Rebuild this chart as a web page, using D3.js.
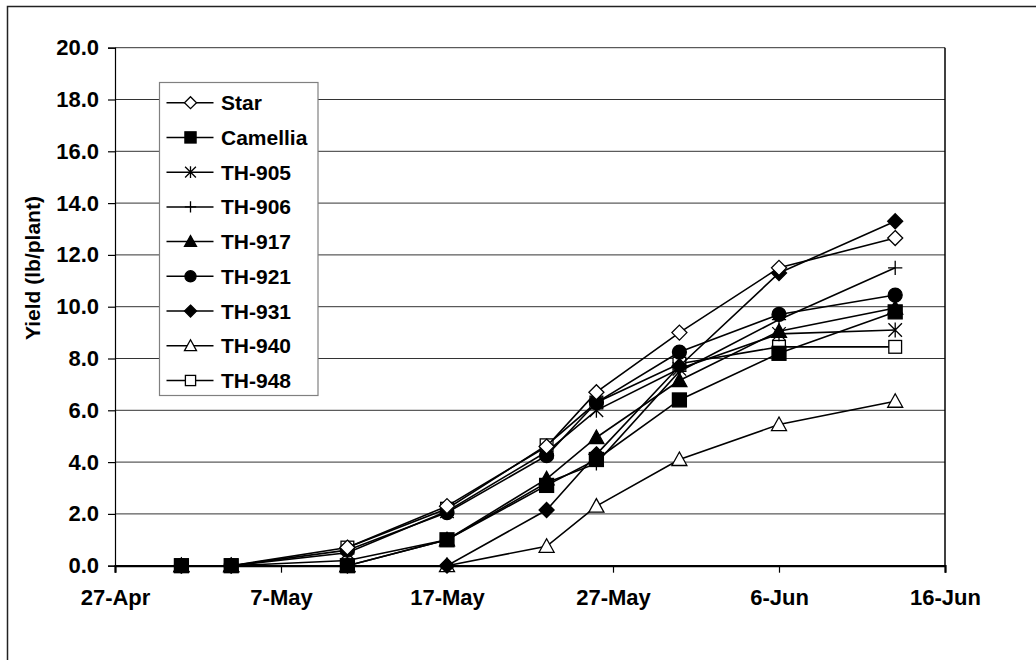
<!DOCTYPE html>
<html lang="en">
<head>
<meta charset="UTF-8">
<title>Yield (lb/plant)</title>
<style>
  body { margin: 0; background: #fff; }
  svg { display: block; font-family: "Liberation Sans", Arial, sans-serif; }
  .tick text { font-size: 22px; font-weight: bold; fill: #000; }
  .legend text { font-size: 21px; font-weight: bold; }
</style>
</head>
<body>
<div id="chart"></div>
<script src="https://d3js.org/d3.v7.min.js"></script>
<script>
// harvest dates (year is arbitrary, only day and month are shown)
const dates = ["2003-05-01", "2003-05-04", "2003-05-11", "2003-05-17", "2003-05-23",
               "2003-05-26", "2003-05-31", "2003-06-06", "2003-06-13"];

const seriesNames = ["Star", "Camellia", "TH-905", "TH-906", "TH-917", "TH-921", "TH-931", "TH-940", "TH-948"];
const markerTypes = ["diamondOpen", "square", "asterisk", "plus", "triangle", "circle", "diamond", "triangleOpen", "squareOpen"];

// cumulative yield, lb/plant (null = no reading)
const star     = [null, null, 0.7, 2.3, 4.6, 6.7, 9.0, 11.5, 12.65];
const camellia = [0, 0, 0.0, 1.0, 3.1, 4.1, 6.4, 8.2, 9.8];
const th905    = [0, 0, 0.5, 2.1, 4.4, 6.0, 7.6, 8.95, 9.1];
const th906    = [0, 0, 0.2, 1.0, 3.2, 3.95, 7.5, 9.5, 11.5];
const th917    = [0, 0, 0.0, 1.0, 3.35, 4.95, 7.15, 9.05, 9.95];
const th921    = [0, 0, 0.6, 2.05, 4.25, 6.3, 8.25, 9.7, 10.45];
const th931    = [0, 0, 0.0, 0.0, 2.15, 4.3, 7.7, 11.3, 13.3];
const th940    = [0, 0, 0.0, 0.0, 0.75, 2.3, 4.1, 5.45, 6.35];
const th948    = [0, 0, 0.7, 2.2, 4.65, 6.3, 7.8, 8.45, 8.45];

const xTickDates = ["2003-04-27", "2003-05-07", "2003-05-17", "2003-05-27", "2003-06-06", "2003-06-16"];
const yTicks = [0, 2, 4, 6, 8, 10, 12, 14, 16, 18, 20];

const seriesValues = [star, camellia, th905, th906, th917, th921, th931, th940, th948];

const width = 1036, height = 660;
const plot = { left: 115, right: 945, top: 47.7, bottom: 565.7 };

const parse = d3.utcParse("%Y-%m-%d");
const fmt = d3.utcFormat("%-d-%b");

const x = d3.scaleUtc()
    .domain([parse(xTickDates[0]), parse(xTickDates[xTickDates.length - 1])])
    .range([plot.left, plot.right]);
const y = d3.scaleLinear().domain([0, 20]).range([plot.bottom, plot.top]);

const svg = d3.select("#chart").append("svg")
    .attr("width", width)
    .attr("height", height);

// outer chart frame (only the left and top edges fall inside the picture)
svg.append("rect")
    .attr("x", 7.5).attr("y", 6.5)
    .attr("width", width + 20).attr("height", height + 20)
    .attr("fill", "none").attr("stroke", "#222").attr("stroke-width", 1.5);

// gridlines
svg.append("g").selectAll("line")
    .data(yTicks.filter(d => d > 0))
    .join("line")
    .attr("x1", plot.left).attr("x2", plot.right)
    .attr("y1", d => y(d)).attr("y2", d => y(d))
    .attr("stroke", "#333").attr("stroke-width", 1);

// plot border
svg.append("line")
    .attr("x1", plot.right).attr("x2", plot.right)
    .attr("y1", plot.top).attr("y2", plot.bottom)
    .attr("stroke", "#000").attr("stroke-width", 1.5);

const yAxis = svg.append("g")
    .attr("transform", `translate(${plot.left},0)`)
    .call(d3.axisLeft(y).tickValues(yTicks).tickFormat(d3.format(".1f")).tickSize(7).tickPadding(9));

const xAxis = svg.append("g")
    .attr("transform", `translate(0,${plot.bottom})`)
    .call(d3.axisBottom(x).tickValues(xTickDates.map(parse)).tickFormat(fmt).tickSize(7).tickPadding(17));

yAxis.select(".domain").attr("stroke", "#000").attr("stroke-width", 1.2);
xAxis.select(".domain").attr("stroke", "#000").attr("stroke-width", 2.2);
svg.selectAll(".tick line").attr("stroke", "#000").attr("stroke-width", 1.2);

// axis title
svg.append("text")
    .attr("transform", "translate(40,340) rotate(-90)")
    .attr("text-anchor", "start")
    .attr("font-size", 21)
    .attr("font-weight", "bold")
    .text("Yield (lb/plant)");

// marker drawing
function drawMarker(g, type, s) {
    const sw = 1.3;
    if (type === "diamond" || type === "diamondOpen") {
        g.append("path")
            .attr("d", `M0,${-s}L${s},0L0,${s}L${-s},0Z`)
            .attr("fill", type === "diamond" ? "#000" : "#fff")
            .attr("stroke", "#000").attr("stroke-width", sw);
    } else if (type === "square" || type === "squareOpen") {
        const h = type === "square" ? s * 0.93 : s * 0.85;
        g.append("rect")
            .attr("x", -h).attr("y", -h).attr("width", 2 * h).attr("height", 2 * h)
            .attr("fill", type === "square" ? "#000" : "#fff")
            .attr("stroke", "#000").attr("stroke-width", sw);
    } else if (type === "triangle" || type === "triangleOpen") {
        g.append("path")
            .attr("d", `M0,${-s}L${s},${s * 0.8}L${-s},${s * 0.8}Z`)
            .attr("fill", type === "triangle" ? "#000" : "#fff")
            .attr("stroke", "#000").attr("stroke-width", sw);
    } else if (type === "circle") {
        g.append("circle").attr("r", s * 0.93)
            .attr("fill", "#000").attr("stroke", "#000").attr("stroke-width", sw);
    } else if (type === "asterisk") {
        const h = s * 0.9;
        g.append("path")
            .attr("d", `M${-h},${-h}L${h},${h}M${h},${-h}L${-h},${h}M0,${-h * 1.1}L0,${h * 1.1}`)
            .attr("stroke", "#000").attr("stroke-width", sw).attr("fill", "none");
    } else if (type === "plus") {
        const h = s * 0.95;
        g.append("path")
            .attr("d", `M${-h},0L${h},0M0,${-h}L0,${h}`)
            .attr("stroke", "#000").attr("stroke-width", sw).attr("fill", "none");
    }
}

const line = d3.line()
    .defined(d => d.value != null)
    .x(d => x(d.date))
    .y(d => y(d.value));

// drawn last-to-first so the first series sit on top
d3.range(seriesNames.length).reverse().forEach(i => {
    const pts = dates.map((d, j) => ({ date: parse(d), value: seriesValues[i][j] }));
    const g = svg.append("g").attr("class", "series");
    g.append("path")
        .datum(pts)
        .attr("d", line)
        .attr("fill", "none")
        .attr("stroke", "#000")
        .attr("stroke-width", 1.6);
    g.selectAll("g.pt")
        .data(pts.filter(d => d.value != null))
        .join("g")
        .attr("class", "pt")
        .attr("transform", d => `translate(${x(d.date)},${y(d.value)})`)
        .each(function() { drawMarker(d3.select(this), markerTypes[i], 7.5); });
});

// legend
const legend = svg.append("g").attr("class", "legend");
legend.append("rect")
    .attr("x", 159.5).attr("y", 82.5)
    .attr("width", 158.5).attr("height", 313)
    .attr("fill", "#fff").attr("stroke", "#808080").attr("stroke-width", 1.2);

const rowY = d3.scalePoint().domain(seriesNames).range([102.7, 380.5]);

seriesNames.forEach((name, i) => {
    const row = legend.append("g").attr("transform", `translate(0,${rowY(name)})`);
    row.append("line")
        .attr("x1", 166.5).attr("x2", 213.5)
        .attr("stroke", "#000").attr("stroke-width", 1.5);
    const m = row.append("g").attr("transform", "translate(190.5,0)");
    drawMarker(m, markerTypes[i], 6);
    row.append("text")
        .attr("x", 221)
        .attr("dy", "0.36em")
        .text(name);
});
</script>
</body>
</html>
